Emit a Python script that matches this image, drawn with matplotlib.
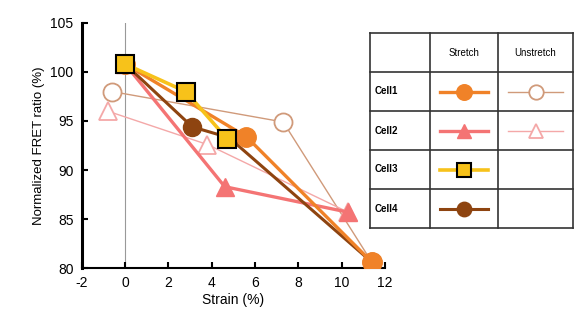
import matplotlib
matplotlib.use('Agg')
import matplotlib.pyplot as plt

plt.rcParams['font.family'] = ['Liberation Sans', 'DejaVu Sans']
plt.rcParams['axes.unicode_minus'] = False

# stretch series
cell1_x = [0, 5.6, 11.4]
cell1_y = [100.8, 93.4, 80.6]
cell2_x = [0, 4.6, 10.3]
cell2_y = [100.8, 88.3, 85.7]
cell3_x = [0, 2.8, 4.7]
cell3_y = [100.8, 98.0, 93.2]
cell4_x = [0, 3.1, 4.8, 11.4]
cell4_y = [100.8, 94.4, 93.3, 80.6]
# unstretch series
un1_x = [-0.6, 7.3, 11.4]
un1_y = [98.0, 94.9, 80.6]
un2_x = [-0.8, 3.8, 10.3]
un2_y = [96.0, 92.6, 85.7]

xticks = [-2, 0, 2, 4, 6, 8, 10, 12]
yticks = [80, 85, 90, 95, 100, 105]
row_names = ['Cell1', 'Cell2', 'Cell3', 'Cell4']
col_names = ['Stretch', 'Unstretch']

c1 = '#F08228'
c2 = '#F47474'
c3 = '#F7C21A'
c4 = '#8E4410'
u1 = '#D09A7A'
u2 = '#F4A8A8'

fig = plt.figure(figsize=(5.77, 3.23), dpi=100)
ax = fig.add_axes([0.142, 0.170, 0.525, 0.759])

ax.axvline(0, color='#999999', lw=0.8, zorder=0)

# unstretch (thin lines, open markers)
st_u1 = dict(color=u1, lw=1.0, marker='o', ms=13, mfc='white', mec=u1, mew=1.3)
st_u2 = dict(color=u2, lw=1.0, marker='^', ms=13, mfc='white', mec=u2, mew=1.3)
ax.plot(un1_x, un1_y, zorder=2, **st_u1)
ax.plot(un2_x, un2_y, zorder=2, **st_u2)

st_c2 = dict(color=c2, lw=2.4, marker='^', ms=13, mfc=c2, mec=c2)
st_c4 = dict(color=c4, lw=2.2, marker='o', ms=13, mfc=c4, mec=c4)
st_c1 = dict(color=c1, lw=2.4, marker='o', ms=14, mfc=c1, mec=c1)
st_c3 = dict(color=c3, lw=2.6, marker='s', ms=13, mfc=c3, mec='black', mew=1.5)
ax.plot(cell2_x, cell2_y, zorder=3, **st_c2)
ax.plot(cell4_x, cell4_y, zorder=4, **st_c4)
ax.plot(cell1_x, cell1_y, zorder=5, **st_c1)
ax.plot(cell3_x, cell3_y, zorder=6, **st_c3)

ax.set_xlim(-2, 12)
ax.set_ylim(80, 105)
ax.set_xticks(xticks)
ax.set_yticks(yticks)
ax.tick_params(direction='in', length=4, width=1.5, labelsize=10, pad=6)
for s in ['top', 'right']:
    ax.spines[s].set_visible(False)
ax.spines['left'].set_linewidth(2.2)
ax.spines['bottom'].set_linewidth(1.5)
ax.set_xlabel('Strain (%)', fontsize=10, labelpad=2)
ax.set_ylabel('Normalized FRET ratio (%)', fontsize=9.5, labelpad=4)
ax.patch.set_alpha(0)

# legend table
tx = fig.add_axes([370 / 577, 1 - 228 / 323, 203 / 577, 195 / 323])
tx.set_xlim(0, 203)
tx.set_ylim(195, 0)
tx.axis('off')
col_edges = [0, 60, 128, 203]
row_edges = [0, 39, 78, 117, 156, 195]
for xe in col_edges:
    tx.plot([xe, xe], [0, 195], color='#333333', lw=1.2, clip_on=False)
for ye in row_edges:
    tx.plot([0, 203], [ye, ye], color='#333333', lw=1.2, clip_on=False)
for j, name in enumerate(col_names):
    tx.text((col_edges[j + 1] + col_edges[j + 2]) / 2, 19.5, name,
            ha='center', va='center', fontsize=7)
styles = [[st_c1, st_u1], [st_c2, st_u2], [st_c3, None], [st_c4, None]]
for i, name in enumerate(row_names):
    yc = (row_edges[i + 1] + row_edges[i + 2]) / 2
    tx.text(5, yc, name, ha='left', va='center', fontsize=7, fontweight='bold')
    for j, st in enumerate(styles[i]):
        if st is None:
            continue
        x0 = col_edges[j + 1] + 10
        x1 = col_edges[j + 2] - 10
        s = dict(st)
        s['ms'] = s['ms'] * 0.8
        tx.plot([x0, (x0 + x1) / 2, x1], [yc, yc, yc], markevery=[1], clip_on=False, **s)

fig.savefig('out.png', dpi=100)
